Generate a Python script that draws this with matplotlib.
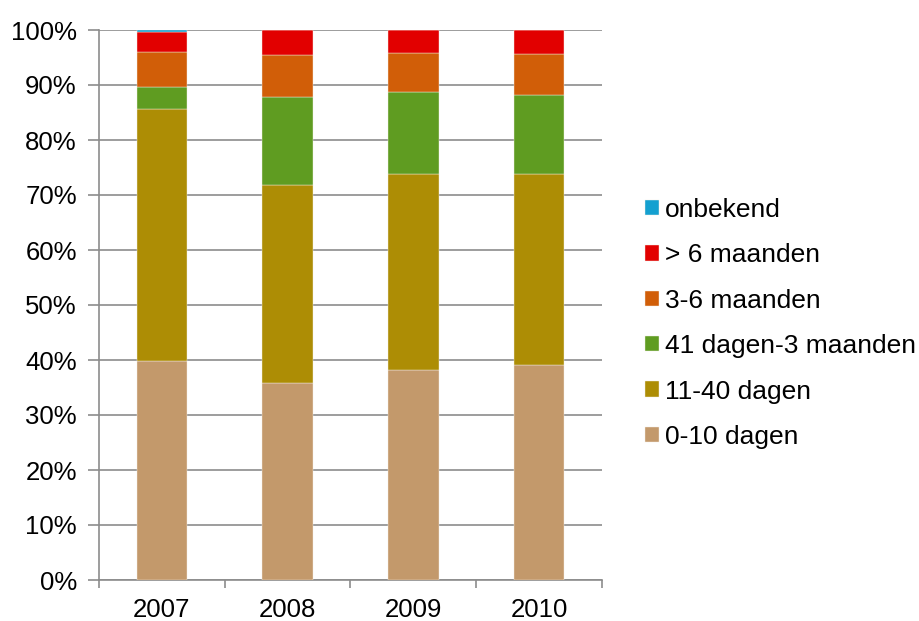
import matplotlib
matplotlib.use("Agg")
import matplotlib.pyplot as plt
import numpy as np
from matplotlib.ticker import FuncFormatter, FixedLocator

plt.rcParams['font.family'] = ['Liberation Sans', 'DejaVu Sans']

years = ["2007", "2008", "2009", "2010"]
categories = ["0-10 dagen", "11-40 dagen", "41 dagen-3 maanden",
              "3-6 maanden", "> 6 maanden", "onbekend"]
d_0_10 = [39.8, 35.8, 38.1, 39.1]
d_11_40 = [45.8, 36.1, 35.8, 34.7]
d_41_3m = [4.0, 16.0, 14.9, 14.3]
m_3_6 = [6.4, 7.6, 7.0, 7.5]
m_6plus = [3.6, 4.5, 4.2, 4.4]
unknown = [0.4, 0.0, 0.0, 0.0]
series = [d_0_10, d_11_40, d_41_3m, m_3_6, m_6plus, unknown]
colors = ["#C3996B", "#AD8D05", "#5F9C21", "#D15E08", "#E20000", "#14A0D0"]

fig = plt.figure(figsize=(9.2, 6.21), dpi=100)
ax = fig.add_axes([99/920, 1 - 580/621, (602 - 99)/920, 550/621])

x = np.arange(len(years))
bottom = np.zeros(len(years))
handles = []
for vals, col, lab in zip(series, colors, categories):
    vals = np.array(vals)
    h = ax.bar(x, vals, width=0.4, bottom=bottom, color=col, label=lab,
               edgecolor="#f4efe6", linewidth=0.3, zorder=3)
    handles.append(h)
    bottom += vals

ax.set_xlim(-0.5, len(years) - 0.5)
ax.set_ylim(0, 100)
ax.set_yticks(np.arange(0, 101, 10))
ax.yaxis.set_major_formatter(FuncFormatter(lambda v, p: f"{int(v)}%"))
ax.yaxis.grid(True, color="#8c8c8c", linewidth=1.2, zorder=0)
ax.set_axisbelow(True)

ax.set_xticks(x)
ax.set_xticklabels(years)
ax.xaxis.set_minor_locator(FixedLocator(np.arange(-0.5, len(years), 1.0)))
ax.tick_params(axis="x", which="major", length=0, pad=13, labelsize=18.5)
ax.tick_params(axis="x", which="minor", length=6, width=1.2, color="#8c8c8c")
ax.tick_params(axis="y", length=8, width=1.2, color="#8c8c8c", pad=8, labelsize=18.5)

for s in ["top", "right"]:
    ax.spines[s].set_visible(False)
for s in ["left", "bottom"]:
    ax.spines[s].set_color("#8c8c8c")
    ax.spines[s].set_linewidth(1.2)

leg = fig.legend(handles[::-1], categories[::-1], loc="upper left",
                 bbox_to_anchor=(645/920, 1 - 198/621), frameon=False,
                 fontsize=19, handlelength=0.52, handleheight=0.52,
                 handletextpad=0.25, labelspacing=0.81, borderpad=0,
                 borderaxespad=0)

fig.savefig("out.png", dpi=100)
